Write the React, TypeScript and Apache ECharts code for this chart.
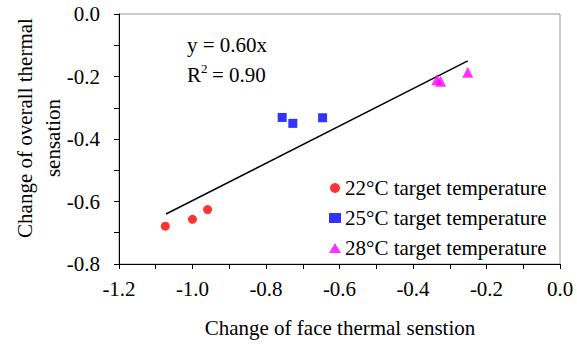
import React, { useEffect, useRef } from "react";
import * as echarts from "echarts";

const xTicks = [-1.2, -1.0, -0.8, -0.6, -0.4, -0.2, 0.0];
const yTicks = [-0.8, -0.6, -0.4, -0.2, 0.0];

const seriesNames = [
  "22°C target temperature",
  "25°C target temperature",
  "28°C target temperature",
];
const data22: [number, number][] = [
  [-1.074, -0.679],
  [-1.0, -0.657],
  [-0.959, -0.626],
];
const data25: [number, number][] = [
  [-0.756, -0.331],
  [-0.727, -0.35],
  [-0.646, -0.332],
];
const data28: [number, number][] = [
  [-0.335, -0.21],
  [-0.325, -0.215],
  [-0.251, -0.186],
];
const trendLine: [number, number][] = [
  [-1.072, -0.64],
  [-0.251, -0.15],
];
const equationText = "y = 0.60x";
const r2Value = "= 0.90";
const xTitle = "Change of face thermal senstion";
const yTitleLines = ["Change of overall thermal", "sensation"];

const FONT = "Liberation Serif";

export default function App() {
  const ref = useRef<HTMLDivElement>(null);
  useEffect(() => {
    document.body.style.margin = "0";
    const chart = echarts.init(ref.current!, null, { renderer: "svg" });
    const fmt = (v: number) => (Math.abs(v) < 1e-9 ? "0.0" : v.toFixed(1));
    const axisCommon = {
      type: "value" as const,
      interval: 0.2,
      axisLine: { show: true, onZero: false, lineStyle: { color: "#000", width: 1 } },
      axisTick: { show: true, inside: false, length: 5, lineStyle: { color: "#000" } },
      minorTick: { show: true, splitNumber: 2, length: 5, lineStyle: { color: "#000" } },
      splitLine: { show: false },
      minorSplitLine: { show: false },
      axisLabel: {
        formatter: fmt,
        color: "#000",
        fontFamily: FONT,
        fontSize: 21,
      },
    };
    const txt = (text: string, x: number, y: number, extra: any = {}, size = 21) => ({
      type: "text",
      x,
      y,
      ...extra,
      style: {
        text,
        fontFamily: FONT,
        fontSize: size,
        fill: "#000",
        textAlign: extra.align || "left",
        textVerticalAlign: "middle",
      },
    });
    chart.setOption({
      animation: false,
      backgroundColor: "#fff",
      textStyle: { fontFamily: FONT },
      grid: {
        left: 119,
        right: 17,
        top: 14,
        bottom: 80,
        show: true,
        borderColor: "#999",
        borderWidth: 1,
      },
      xAxis: {
        ...axisCommon,
        min: xTicks[0],
        max: xTicks[xTicks.length - 1],
        position: "bottom",
        axisLabel: { ...axisCommon.axisLabel, margin: 14 },
      },
      yAxis: {
        ...axisCommon,
        min: yTicks[0],
        max: yTicks[yTicks.length - 1],
        position: "left",
        axisLabel: { ...axisCommon.axisLabel, margin: 19 },
      },
      legend: {
        orient: "vertical",
        left: 324,
        top: 172,
        itemWidth: 12,
        itemHeight: 10,
        itemGap: 8,
        textStyle: {
          fontFamily: FONT,
          fontSize: 21,
          color: "#000",
          lineHeight: 22,
          padding: [0, 0, 0, -1],
        },
        data: [
          { name: seriesNames[0], icon: "circle" },
          { name: seriesNames[1], icon: "rect" },
          { name: seriesNames[2], icon: "triangle" },
        ],
      },
      series: [
        {
          type: "line",
          data: trendLine,
          symbol: "none",
          lineStyle: { color: "#000", width: 1.5 },
          silent: true,
          z: 1,
        },
        {
          name: seriesNames[0],
          type: "scatter",
          data: data22,
          symbol: "circle",
          symbolSize: 9,
          itemStyle: { color: "#ff0000" },
          z: 3,
        },
        {
          name: seriesNames[1],
          type: "scatter",
          data: data25,
          symbol: "rect",
          symbolSize: 9,
          itemStyle: { color: "#0000ff" },
          z: 3,
        },
        {
          name: seriesNames[2],
          type: "scatter",
          data: data28,
          symbol: "triangle",
          symbolSize: 11,
          itemStyle: { color: "#ff00ff" },
          z: 3,
        },
      ],
      graphic: [
        txt(equationText, 187, 45),
        txt("R", 187, 75),
        txt("2", 201, 68, {}, 13),
        txt(r2Value, 212, 75),
        txt(xTitle, 340, 328, { align: "center" }),
        txt(yTitleLines[0], 25, 128, { rotation: Math.PI / 2, align: "center" }),
        txt(yTitleLines[1], 53, 138, { rotation: Math.PI / 2, align: "center" }),
      ],
    });
    return () => chart.dispose();
  }, []);
  return <div ref={ref} style={{ width: 577, height: 344 }} />;
}
